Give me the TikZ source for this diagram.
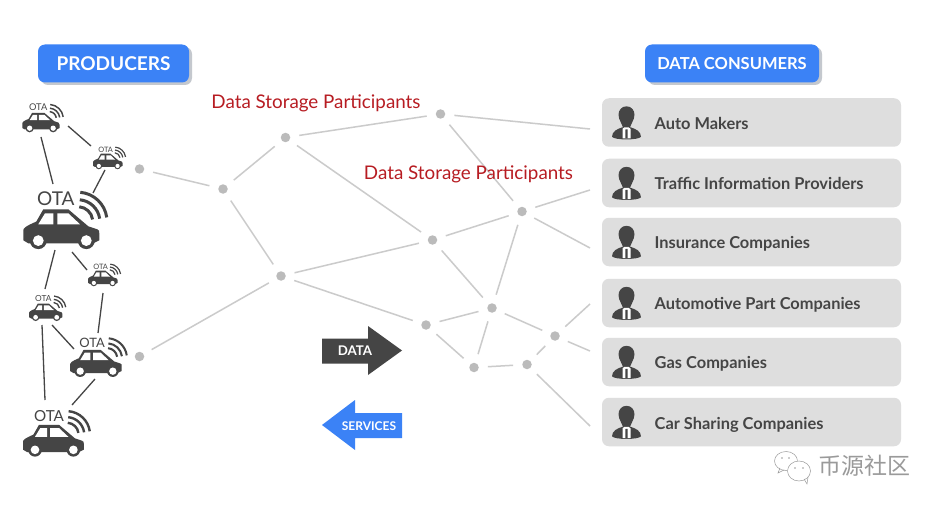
\documentclass[tikz,border=0pt]{standalone}
\usepackage{fontspec}
\setmainfont{Lato}
\newfontfamily\cjk{Noto Sans CJK SC}
\definecolor{btn}{HTML}{3B82F6}
\definecolor{btnsh}{HTML}{C4C8CE}
\definecolor{dk}{HTML}{454545}
\definecolor{rowbg}{HTML}{DEDEDE}
\definecolor{edgec}{HTML}{CBCBCB}
\definecolor{dotc}{HTML}{BBBBBB}
\definecolor{redt}{HTML}{B71C22}
\definecolor{wm}{HTML}{9A9A9A}
\tikzset{
  x=1pt,y=-1pt,
  edge/.style={draw=edgec,line width=1.5pt,shorten <=9pt,shorten >=9pt},
  edgefree/.style={draw=edgec,line width=1.5pt,shorten <=9pt},
  carline/.style={draw=dk,line width=1.3pt},
  dot/.style={circle,fill=dotc,minimum size=9.5pt,inner sep=0pt},
  rowbox/.style={draw=none,fill=rowbg,rounded corners=7pt,minimum width=299pt,minimum height=48.5pt,inner sep=0pt},
  rowtext/.style={anchor=west,text=dk,font=\bfseries\fontsize{16.4}{18}\selectfont,inner sep=0pt},
  header/.style={fill=btn,text=white,rounded corners=7pt,minimum height=38pt,inner sep=0pt,font=\bfseries},
  redlabel/.style={text=redt,font=\fontsize{18.8}{20}\selectfont,inner sep=0pt},
  pics/car/.style={code={
    \fill[dk] (0,-3) -- (0,-13) .. controls (0,-15) and (2,-17) .. (13,-21.7) -- (20,-34) -- (45,-34) -- (65,-17) -- (74,-14) .. controls (76,-13.5) and (76,-12) .. (76,-10) -- (76,-3) -- (70,0) -- (5,0) -- cycle;
    \fill[white] (15,-19) -- (21.7,-30) -- (30,-30) -- (30,-19) -- cycle;
    \fill[white] (34,-19) -- (34,-30) -- (45,-30) -- (56.7,-19) -- cycle;
    \fill[dk] (15,-2.7) circle[radius=8.5];
    \fill[dk] (63,-2.7) circle[radius=8.5];
    \fill[white] (15,-2.7) circle[radius=5.4];
    \fill[white] (63,-2.7) circle[radius=5.4];
    \node[transform shape,text=dk,inner sep=0pt,font=\fontsize{19}{19}\selectfont] at (32.5,-45) {OTA};
    \draw[dk,line width=#1*3pt] (56,-36.5) arc[start angle=-85,end angle=-8,radius=14.7];
    \draw[dk,line width=#1*3pt] (56.5,-43.5) arc[start angle=-85,end angle=-8,radius=22];
    \draw[dk,line width=#1*3pt] (57,-51) arc[start angle=-85,end angle=-8,radius=29.3];
  }},
  pics/person/.style={code={
    \fill[dk] (0,-33) .. controls (5,-33) and (8,-29) .. (8,-24.5) .. controls (8,-19) and (3.5,-15) .. (3,-9) -- (-3,-9) .. controls (-3.5,-15) and (-8,-19) .. (-8,-24.5) .. controls (-8,-29) and (-5,-33) .. (0,-33) -- cycle;
    \fill[dk] (-14.5,-2.5) .. controls (-14.5,-8) and (-9,-10.5) .. (-4,-12) -- (4,-12) .. controls (9,-10.5) and (14.5,-8) .. (14.5,-2.5) .. controls (12,1) and (-12,1) .. (-14.5,-2.5) -- cycle;
    \fill[white] (-4,-10.5) -- (-2,-12) -- (2,-12) -- (4,-10.5) -- (4,-0.8) -- (-4,-0.8) -- cycle;
    \fill[dk] (-1,-10) -- (1,-10) -- (1.2,-0.8) -- (-1.2,-0.8) -- cycle;
  }}
}
\begin{document}
\begin{tikzpicture}
\useasboundingbox (0,0) rectangle (940,508);
\fill[white] (0,0) rectangle (940,508);

% headers
\fill[btnsh,rounded corners=7pt] (41,47) rectangle (192,85);
\fill[btnsh,rounded corners=7pt] (648,47) rectangle (822,85);
\node[header,minimum width=151pt,font=\bfseries\fontsize{19}{20}\selectfont] (prod) at (113.5,63.5) {PRODUCERS};
\node[header,minimum width=174pt,font=\bfseries\fontsize{16.5}{20}\selectfont] (cons) at (732,63.5) {DATA CONSUMERS};

% rows
\foreach \nm/\yy/\ty/\tx in {r1/122.5/123.5/Auto Makers,r2/183/183.5/Traffic Information Providers,r3/242/244/Insurance Companies,r4/303/305/Automotive Part Companies,r5/362/364/Gas Companies,r6/422/424.5/Car Sharing Companies}{
  \node[rowbox] (\nm) at (751.5,\yy) {};
  \pic at (626.5,\yy+16.8) {person};
  \node[rowtext] (\nm t) at (654.5,\ty) {\tx};
}

% network dots
\node[dot] (A) at (139.5,169) {};
\node[dot] (B) at (223,189) {};
\node[dot] (C) at (285.5,137.5) {};
\node[dot] (D) at (440.5,114) {};
\node[dot] (E) at (281,276) {};
\node[dot] (F) at (139.5,356.5) {};
\node[dot] (G) at (432.5,240) {};
\node[dot] (H) at (522,211.5) {};
\node[dot] (I) at (492,308) {};
\node[dot] (J) at (426,325) {};
\node[dot] (K) at (555,336) {};
\node[dot] (L) at (474,367.5) {};
\node[dot] (M) at (527,364.5) {};

\coordinate (e1) at (590,129);
\coordinate (e2) at (590,190);
\coordinate (e3) at (590,248);
\coordinate (e4) at (590,304);
\coordinate (e5) at (590,351);
\coordinate (e6) at (590,426);

\foreach \a/\b in {A/B,B/C,C/D,B/E,F/E,E/G,C/G,D/H,G/H,G/I,H/I,E/J,J/I,J/L,I/L,I/K,K/M,L/M}
  \draw[edge] (\a) -- (\b);
\foreach \a/\b in {D/e1,H/e2,H/e3,K/e4,K/e5,M/e6}
  \draw[edgefree] (\a) -- (\b);

% red labels
\node[redlabel,anchor=center] (s1) at (316,103.5) {Data Storage Participants};
\node[redlabel,anchor=center] (s2) at (468.5,174.5) {Data Storage Participants};

% arrows
\fill[dk] (322,338.5) -- (368,338.5) -- (368,326) -- (402,350.5) -- (368,375) -- (368,363.5) -- (322,363.5) -- cycle;
\node[text=white,font=\bfseries\fontsize{13.3}{14}\selectfont,inner sep=0pt] (data) at (355,351) {DATA};
\fill[btn] (402,413) -- (355,413) -- (355,400) -- (322,425) -- (355,450) -- (355,438) -- (402,438) -- cycle;
\node[text=white,font=\bfseries\fontsize{12}{14}\selectfont,inner sep=0pt] (serv) at (369,426) {SERVICES};

% cars
\pic[scale=.49] at (22.3,129.5) {car=.49};
\pic[scale=.39] at (93,167) {car=.39};
\pic[scale=1] at (23.3,243.3) {car=1};
\pic[scale=.39] at (88,284) {car=.39};
\pic[scale=.44] at (29,318.5) {car=.44};
\pic[scale=.68] at (70,373) {car=.68};
\pic[scale=.8] at (23,452) {car=.8};

\foreach \n/\x/\y in {a1/41/137,a2/53/184,b1/68/126,b2/91/146,c1/105/170,c2/93/193,d1/55/250,d2/45/289,f1/72/252,f2/87/270,g1/103/293,g2/98/333,h1/52/325,h2/74/349,i1/42/325,i2/45/400,j1/95/379,j2/72/405}
  \coordinate (\n) at (\x,\y);
\foreach \a/\b in {a1/a2,b1/b2,c1/c2,d1/d2,f1/f2,g1/g2,h1/h2,i1/i2,j1/j2}
  \draw[carline] (\a) -- (\b);

% watermark
\draw[wm,line width=.5pt] (786,461) ellipse[x radius=11.5,y radius=9.5];
\draw[wm,line width=.5pt] (780,468) -- (778,473) -- (784,470);
\fill[white] (799,471) ellipse[x radius=12,y radius=10.5];
\draw[wm,line width=.5pt] (799,471) ellipse[x radius=11.5,y radius=10];
\draw[wm,line width=.5pt] (804,479) -- (807,484) -- (808,477);
\fill[wm] (782,458) circle[radius=.8] (789,458) circle[radius=.8] (795,468) circle[radius=.8] (803,468) circle[radius=.8];
\node[text=wm,font=\cjk\fontsize{23}{24}\selectfont,inner sep=0pt] (wmt) at (864,466) {币源社区};
\end{tikzpicture}
\end{document}
